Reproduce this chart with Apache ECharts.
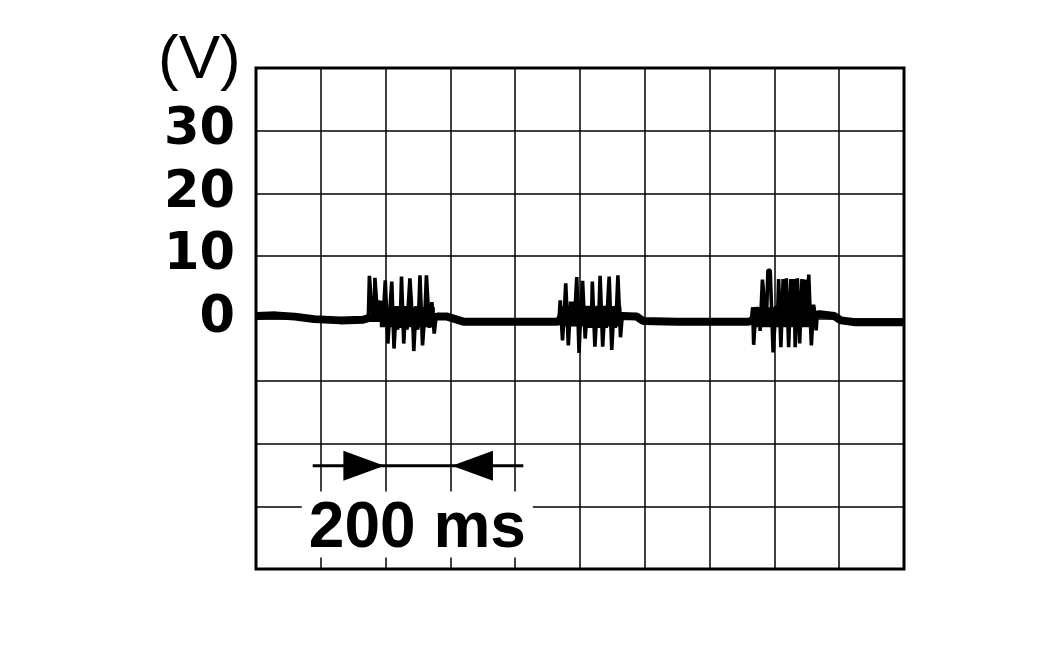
<!DOCTYPE html>
<html><head><meta charset="utf-8">
<script src="https://cdn.jsdelivr.net/npm/echarts@6/dist/echarts.min.js"></script>
<style>html,body{margin:0;padding:0;background:#fff}#c{width:1063px;height:661px}</style>
</head><body><div id="c"></div>
<script>
// time axis (ms) and voltage axis (V)
const timeMin = 0, timeMax = 2000, timeStep = 200;
const voltMin = -40, voltMax = 40, voltStep = 10;
const yTickLabels = [0, 10, 20, 30];
const yUnit = '(V)';
const scaleText = '200 ms';

// thick baseline trace [ms, V]
const baseline = [[0,0.4],[60,0.5],[120,0.3],[180,-0.1],[260,-0.3],[330,-0.2],[350,0.1],[440,0.0],[540,0.1],[560,0.3],[590,0.3],[615,-0.1],[640,-0.5],[800,-0.5],[930,-0.5],[1000,0.0],[1130,0.4],[1175,0.3],[1195,-0.4],[1300,-0.5],[1520,-0.5],[1600,0.0],[1740,0.7],[1785,0.4],[1805,-0.3],[1850,-0.6],[2000,-0.6]];

// dense oscillation core of each burst [ms, V]
const core1 = [[382,0.2],[552,0.2]];
const core2 = [[938,0.3],[1128,0.3]];
const core3 = [[1534,0.2],[1728,0.2]];

// first burst [ms, V]
const burst1 = [[340,0.1],[347,0.6],[350,6.8],[356,6.8],[359,0.6],[362,1.4],[365,0.2],[367,6.5],[372,6.5],[375,0.4],[379,2.9],[383,-0.5],[387,2.8],[391,-0.8],[395,2.4],[399,6.1],[404,6.1],[407,-4.0],[411,-4.0],[414,2.0],[419,5.9],[424,5.9],[426,-4.8],[430,-4.8],[433,2.0],[437,-1.8],[441,2.0],[445,-1.5],[449,6.7],[454,6.7],[456,-4.0],[459,-4.0],[462,2.0],[466,-1.8],[470,2.0],[475,6.4],[480,6.4],[485,-2.0],[487,-5.2],[491,-5.2],[494,2.0],[499,-1.8],[503,2.2],[506,6.9],[511,6.9],[514,-4.3],[519,-4.3],[522,1.8],[526,6.9],[531,6.9],[535,-1.5],[539,1.5],[543,2.6],[548,2.6],[550,-2.4],[554,-2.4],[557,0.8],[562,0.3]];

// second burst [ms, V]
const burst2 = [[930,-0.3],[936,0.5],[939,2.9],[943,2.9],[946,-3.5],[949,-3.5],[952,1.5],[956,5.6],[961,5.6],[964,-4.3],[968,-4.3],[971,2.7],[975,-1.0],[979,2.7],[983,-1.2],[986,2.7],[990,6.6],[995,6.6],[997,-5.5],[1000,-5.5],[1003,2.0],[1008,6.0],[1013,6.0],[1016,-3.2],[1020,-3.2],[1023,2.0],[1027,-1.5],[1031,2.0],[1035,-1.5],[1038,5.9],[1043,5.9],[1046,-4.5],[1050,-4.5],[1053,2.0],[1057,-1.5],[1062,6.8],[1067,6.8],[1070,-4.5],[1074,-4.5],[1077,2.0],[1081,-1.5],[1085,2.0],[1090,6.7],[1095,6.7],[1098,-5.0],[1102,-5.0],[1105,2.0],[1109,-1.5],[1113,2.0],[1117,6.9],[1122,6.9],[1125,-3.0],[1128,-3.0],[1131,0.8],[1140,0.5]];

// third burst [ms, V]
const burst3 = [[1520,-0.3],[1530,0.2],[1533,1.8],[1536,-4.2],[1540,-4.2],[1543,1.8],[1548,1.0],[1553,1.8],[1556,-2.0],[1560,-2.0],[1563,6.2],[1569,6.2],[1572,1.0],[1575,-1.0],[1580,7.7],[1587,7.7],[1592,0.5],[1596,-5.4],[1601,-5.4],[1605,2.0],[1609,-1.0],[1613,6.3],[1617,6.3],[1620,-4.6],[1624,-4.6],[1627,6.3],[1631,6.3],[1634,0.5],[1637,6.4],[1641,6.4],[1644,-4.6],[1648,-4.6],[1651,6.3],[1655,6.3],[1658,0.5],[1661,6.3],[1664,-4.6],[1668,-4.6],[1671,6.4],[1675,6.4],[1678,-4.0],[1682,-4.0],[1685,6.3],[1689,6.3],[1692,0.5],[1695,6.2],[1698,2.0],[1702,-1.0],[1706,7.0],[1712,7.0],[1714,-4.3],[1718,-4.3],[1721,2.2],[1726,2.2],[1729,-1.9],[1732,0.7],[1745,0.8]];

// 200 ms scale marker [ms, V]
const scaleBar = [[175,-23.5],[825,-23.5]];
const scaleArrowRight = [333,-23.5];
const scaleArrowLeft = [668,-23.5];
const scaleLabelAt = [498,-32.9];

const chart = echarts.init(document.getElementById('c'), null, {renderer:'canvas'});
const thin = (d) => ({type:'line', data:d, symbol:'none', animation:false, z:4,
  lineStyle:{color:'#000', width:3.6}});
const core = (d) => ({type:'line', data:d, symbol:'none', animation:false, z:3,
  lineStyle:{color:'#000', width:20, cap:'butt'}});
chart.setOption({
  backgroundColor:'#fff',
  animation:false,
  grid:{left:256, top:68, width:648, height:501, show:true, borderColor:'#000', borderWidth:3, containLabel:false},
  xAxis:{type:'value', min:timeMin, max:timeMax, interval:timeStep,
    axisLine:{show:false}, axisTick:{show:false}, axisLabel:{show:false},
    splitLine:{show:true, lineStyle:{color:'#000', width:1.5}}},
  yAxis:{type:'value', min:voltMin, max:voltMax, interval:voltStep,
    axisLine:{show:false}, axisTick:{show:false},
    axisLabel:{show:true, margin:21, color:'#000', fontFamily:'DejaVu Sans', fontWeight:'bold', fontSize:51,
      formatter:(v)=> yTickLabels.indexOf(v) >= 0 ? String(v) : ''},
    splitLine:{show:true, lineStyle:{color:'#000', width:1.5}}},
  graphic:[{type:'text', left:158, top:30, z:10,
    style:{text:yUnit, font:'62px "Liberation Sans"', fill:'#000'}}],
  series:[
    {type:'line', data:baseline, symbol:'none', animation:false, z:3, lineStyle:{color:'#000', width:8}},
    core(core1), core(core2), core(core3),
    thin(burst1), thin(burst2), thin(burst3),
    {type:'line', data:scaleBar, symbol:'none', animation:false, z:4, lineStyle:{color:'#000', width:3}},
    {type:'scatter', animation:false, z:5, symbol:'triangle', symbolSize:[30,41], itemStyle:{color:'#000', opacity:1},
      data:[{value:scaleArrowRight, symbolRotate:-90},{value:scaleArrowLeft, symbolRotate:90}]},
    {type:'scatter', animation:false, z:6, symbol:'rect', symbolSize:[231,66], itemStyle:{color:'#fff', opacity:1},
      data:[scaleLabelAt],
      label:{show:true, position:'inside', offset:[0,5], formatter:scaleText, color:'#000', opacity:1,
        fontFamily:'Liberation Sans', fontWeight:'bold', fontSize:64}}
  ]
});
</script></body></html>
